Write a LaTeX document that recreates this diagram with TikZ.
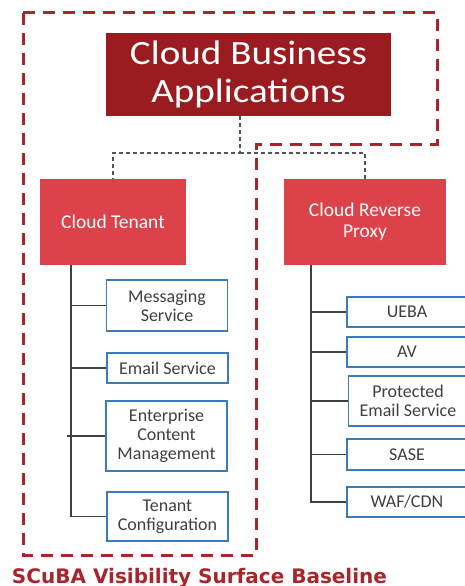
\documentclass[tikz,border=0pt]{standalone}
\usepackage{fontspec}
\setmainfont{Carlito}
\newfontfamily\titlefont{Carlito}[FakeStretch=1.15]
\newfontfamily\capfont{DejaVu Sans}
\definecolor{darkred}{HTML}{9B1C20}
\definecolor{brightred}{HTML}{DC4249}
\definecolor{outlinered}{HTML}{A8262B}
\definecolor{boxblue}{HTML}{3D7AB8}
\definecolor{treegray}{HTML}{404040}
\definecolor{txtgray}{HTML}{404040}
\tikzset{
  topbox/.style={fill=darkred, draw=none, text=white, align=center, font=\titlefont\fontsize{34}{38}\selectfont, minimum width=285pt, minimum height=83pt, inner sep=0pt},
  midbox/.style={fill=brightred, draw=none, text=white, align=center, font=\fontsize{19.5}{21}\selectfont, inner sep=0pt},
  leafbox/.style={draw=boxblue, line width=1.3pt, fill=white, text=txtgray, align=center, font=\fontsize{18}{19}\selectfont, inner sep=0pt},
  tree/.style={draw=treegray, line width=1.5pt},
  conn/.style={draw=treegray!90, line width=1.4pt, dash pattern=on 4pt off 3pt},
  outline/.style={draw=outlinered, line width=3pt, dash pattern=on 12pt off 8pt}
}
\begin{document}
\begin{tikzpicture}[x=1pt,y=-1pt]
\useasboundingbox (0,0) rectangle (465,586);
% dashed outline
\draw[outline] (23,13) -- (437,13) -- (437,144) -- (256,144) -- (256,555) -- (23,555) -- cycle;
% main nodes
\node[topbox] (cba) at (248.5,74.5) {Cloud Business\\Applications};
\node[midbox, minimum width=146pt, minimum height=86pt] (tenant) at (113,222) {Cloud Tenant};
\node[midbox, minimum width=162pt, minimum height=86pt] (proxy) at (365,222) {Cloud Reverse\\Proxy};
% connectors from top
\coordinate (j) at (240,153);
\draw[conn] (cba.south -| j) -- (j) -| (tenant.north);
\draw[conn] (j) -| (proxy.north);
% left leaves
\node[leafbox, minimum width=121pt, minimum height=51pt] (msg) at (167,305.5) {Messaging\\Service};
\node[leafbox, minimum width=121pt, minimum height=30pt] (email) at (167.5,368) {Email Service};
\node[leafbox, minimum width=121pt, minimum height=70pt] (ecm) at (166.5,436) {Enterprise\\Content\\Management};
\node[leafbox, minimum width=121pt, minimum height=49pt] (tconf) at (167.5,516.5) {Tenant\\Configuration};
% right leaves
\node[leafbox, minimum width=120pt, minimum height=30pt] (ueba) at (407,312) {UEBA};
\node[leafbox, minimum width=120pt, minimum height=30pt] (av) at (407,352) {AV};
\node[leafbox, minimum width=119pt, minimum height=50pt] (pes) at (408,401) {Protected\\Email Service};
\node[leafbox, minimum width=120pt, minimum height=31pt] (sase) at (407,454.5) {SASE};
\node[leafbox, minimum width=120pt, minimum height=30pt] (waf) at (407,502) {WAF/CDN};
% left tree
\coordinate (lt) at (71,265);
\coordinate (ltick) at (67,436);
\draw[tree] (lt) |- (tconf.west);
\draw[tree] (lt |- msg.west) -- (msg.west);
\draw[tree] (lt |- email.west) -- (email.west);
\draw[tree] (ltick) -- (ecm.west);
% right tree
\coordinate (rt) at (311,265);
\draw[tree] (rt) |- (waf.west);
\draw[tree] (rt |- ueba.west) -- (ueba.west);
\draw[tree] (rt |- av.west) -- (av.west);
\draw[tree] (rt |- pes.west) -- (pes.west);
\draw[tree] (rt |- sase.west) -- (sase.west);
% caption
\node[anchor=base, text=outlinered, font=\capfont\bfseries\fontsize{20}{24}\selectfont, inner sep=0pt] (cap) at (199.5,583) {SCuBA Visibility Surface Baseline};
\end{tikzpicture}
\end{document}
